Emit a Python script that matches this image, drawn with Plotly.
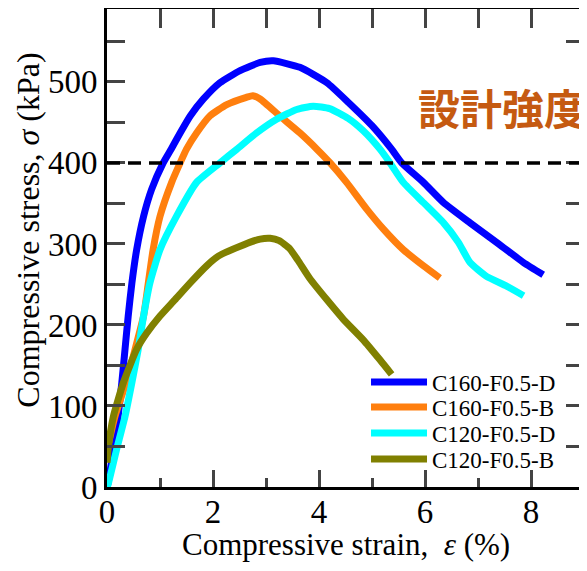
import plotly.graph_objects as go

# ---- data ----
strain_c160_d = [0, 0.02, 0.12, 0.21, 0.28, 0.34, 0.40, 0.47, 0.56, 0.69, 0.84, 1.06, 1.21, 1.38, 1.57,
                 1.82, 2.13, 2.51, 2.89, 3.14, 3.64, 4.15, 4.55, 5.0, 5.37, 5.56, 5.97, 6.35, 6.85,
                 7.35, 7.86, 8.23]
stress_c160_d = [0, 5, 46, 87, 129, 170, 211, 252, 293, 334, 367, 400, 417, 437, 458,
                 479, 499, 514, 524, 526, 518, 499, 475, 446, 417, 400, 376, 351, 326,
                 302, 277, 262]

strain_c160_b = [0, 0.15, 0.36, 0.53, 0.69, 0.78, 0.87, 1.0, 1.22, 1.38, 1.5, 1.69, 1.94, 2.26, 2.63,
                 2.75, 2.89, 3.26, 3.64, 3.96, 4.21, 4.52, 4.9, 5.22, 5.59, 5.97, 6.28]
stress_c160_b = [46, 87, 129, 170, 211, 252, 293, 334, 376, 400, 417, 437, 458, 472, 481,
                 483, 479, 458, 437, 417, 400, 376, 343, 318, 293, 273, 258]

strain_c120_d = [0, 0.02, 0.18, 0.34, 0.47, 0.59, 0.69, 0.81, 1.0, 1.31, 1.69, 2.13, 2.45, 2.82, 3.2,
                 3.58, 3.89, 4.2, 4.55, 4.83, 5.15, 5.34, 5.59, 5.97, 6.35, 6.63, 6.85, 7.16, 7.54,
                 7.86]
stress_c120_d = [0, 3, 46, 87, 129, 170, 211, 252, 293, 334, 376, 400, 417, 437, 454,
                 466, 470, 467, 455, 440, 417, 400, 376, 351, 326, 302, 277, 260, 248,
                 236]

strain_c120_b = [0, 0.02, 0.12, 0.31, 0.56, 0.75, 1.0, 1.28, 1.57, 1.88, 2.1, 2.5, 2.89, 3.08, 3.25,
                 3.45, 3.6, 3.83, 4.15, 4.46, 4.83, 5.15, 5.37]
stress_c120_b = [30, 46, 87, 129, 170, 190, 211, 231, 252, 273, 285, 297, 306, 307, 304,
                 294, 280, 257, 231, 207, 182, 157, 139]

series_names = ["C160-F0.5-D", "C160-F0.5-B", "C120-F0.5-D", "C120-F0.5-B"]
series_colors = ["#0000FF", "#FF7F0E", "#00FFFF", "#808000"]
design_strength = 400
design_label = "設計強度"

xs = [strain_c160_d, strain_c160_b, strain_c120_d, strain_c120_b]
ys = [stress_c160_d, stress_c160_b, stress_c120_d, stress_c120_b]

SERIF = "Liberation Serif, Times New Roman, serif"
legend_ids = ["legend", "legend2", "legend3", "legend4"]
legend_rows_y = [0.2197, 0.1674, 0.1130, 0.0586]

fig = go.Figure()
for x, y, n, c, lg in zip(xs, ys, series_names, series_colors, legend_ids):
    fig.add_trace(go.Scatter(x=x, y=y, mode="lines", name=n, legend=lg,
                             line=dict(color=c, width=7, shape="spline", smoothing=0.5)))

# invisible trace to carry the top axis ticks
fig.add_trace(go.Scatter(x=[0, 9], y=[0, 0], xaxis="x2", mode="lines",
                         line=dict(width=0), showlegend=False, hoverinfo="skip"))

fig.add_shape(type="line", xref="x", yref="y", x0=0, x1=9, y0=design_strength, y1=design_strength,
              line=dict(color="black", width=3.5, dash="13px,8px"))

fig.add_annotation(x=7.45, y=470, xref="x", yref="y", text="<b>" + design_label + "</b>",
                   showarrow=False, font=dict(family="Noto Sans CJK JP", size=42, color="#C55A11"),
                   bgcolor="white", borderpad=7, xanchor="center", yanchor="middle")

fig.add_annotation(x=0.5, y=-0.121, xref="paper", yref="paper",
                   text="Compressive strain,  <i>ε</i> (%)", showarrow=False,
                   font=dict(family=SERIF, size=31, color="black"), xanchor="center", yanchor="middle")
fig.add_annotation(x=-0.166, y=0.538, xref="paper", yref="paper",
                   text="Compressive stress, <i>σ</i> (kPa)", showarrow=False, textangle=-90,
                   font=dict(family=SERIF, size=32, color="black"), xanchor="center", yanchor="middle")

legend_common = dict(x=0.543, xanchor="left", yanchor="middle", font=dict(family=SERIF, size=23),
                     bgcolor="rgba(0,0,0,0)", itemwidth=56)
legends = {}
for lg, ly in zip(legend_ids, legend_rows_y):
    legends[lg] = dict(legend_common, y=ly)

# the page places the figure 8px in from the top-left corner
fig.update_layout(
    width=579, height=563,
    margin=dict(l=99, r=3, t=1, b=84, autoexpand=False),
    paper_bgcolor="white", plot_bgcolor="white",
    font=dict(family=SERIF, color="black"),
    showlegend=True,
    xaxis=dict(range=[0, 9], dtick=2, tick0=0, ticks="inside", ticklen=17, tickwidth=2.5,
               showline=True, linewidth=3, linecolor="black", mirror=True, showgrid=False,
               zeroline=False, tickfont=dict(family=SERIF, size=33), automargin=False,
               ticklabelstandoff=-7,
               minor=dict(dtick=1, ticks="inside", ticklen=9, tickwidth=2.5, showgrid=False)),
    xaxis2=dict(range=[0, 9], overlaying="x", side="top", dtick=1, tick0=0, ticks="inside",
                ticklen=19, tickwidth=2.5, showticklabels=False, showgrid=False, zeroline=False,
                showline=False, automargin=False),
    yaxis=dict(range=[0, 590], dtick=100, tick0=0, ticks="inside", ticklen=18, tickwidth=2.5,
               showline=True, linewidth=3, linecolor="black", mirror="allticks", showgrid=False,
               zeroline=False, tickfont=dict(family=SERIF, size=33), automargin=False,
               minor=dict(dtick=50, ticks="inside", ticklen=11, tickwidth=2.5, showgrid=False)),
    **legends,
)

fig.write_html("out.html")
